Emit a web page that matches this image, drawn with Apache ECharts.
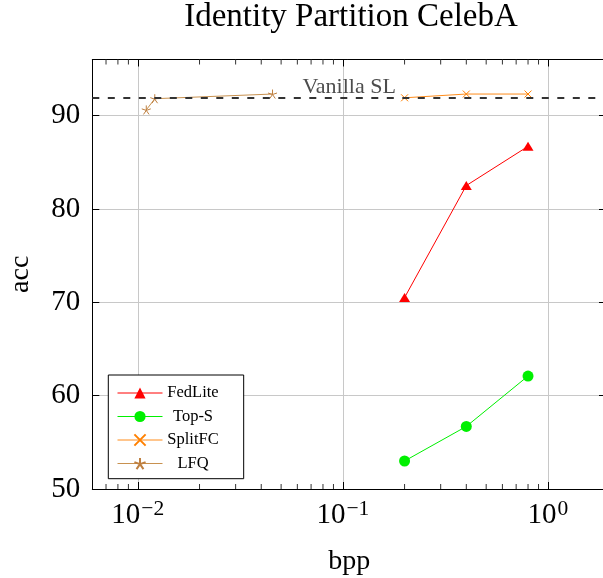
<!DOCTYPE html>
<html>
<head>
<meta charset="utf-8">
<script src="https://cdn.jsdelivr.net/npm/echarts@6/dist/echarts.min.js"></script>
<style>
  html, body { margin: 0; padding: 0; background: #fff; }
  #chart { width: 603px; height: 578px; }
</style>
</head>
<body>
<div id="chart"></div>
<script>
// Accuracy vs. bits per pixel, identity partition of CelebA
const fedLiteBpp = [0.2, 0.4, 0.8];
const fedLiteAcc = [70.5, 82.5, 86.7];

const topSBpp = [0.2, 0.4, 0.8];
const topSAcc = [53.0, 56.7, 62.1];

const splitFCBpp = [0.2, 0.4, 0.8];
const splitFCAcc = [91.9, 92.3, 92.3];

const lfqBpp = [0.011, 0.0121, 0.0454];
const lfqAcc = [90.6, 91.8, 92.3];

const vanillaSL = 91.9;

const seriesNames = ['FedLite', 'Top-S', 'SplitFC', 'LFQ'];
const xMin = 0.006, xMax = 1.92;
const yMin = 50, yMax = 96, yStep = 10;

const FONT = 'Liberation Serif';

const pairs = (xs, ys) => xs.map((x, i) => [x, ys[i]]);

// minor log ticks: 2..9 x 10^k inside the axis range
const minorTicks = [];
for (let k = -3; k <= 0; k++) {
  for (let m = 2; m <= 9; m++) {
    const v = m * Math.pow(10, k);
    if (v > xMin && v < xMax) minorTicks.push([v]);
  }
}

const starPath = 'path://M5,5L5,0M5,5L0.245,3.455M5,5L2.061,9.045M5,5L7.939,9.045M5,5L9.755,3.455';
const crossPath = 'path://M0,0L10,10M10,0L0,10';

function logLabel(v) {
  const e = Math.round(Math.log10(v));
  const exp = e < 0 ? '\u2212' + (-e) : String(e);
  return '{b|10}{s|' + exp + '}';
}

const chart = echarts.init(document.getElementById('chart'), null, { renderer: 'canvas' });

const axisBlack = { show: true, lineStyle: { color: '#000', width: 1 } };

chart.setOption({
  animation: false,
  backgroundColor: '#fff',
  title: {
    text: 'Identity Partition CelebA',
    left: 351,
    top: 1,
    padding: 0,
    textAlign: 'center',
    textStyle: { fontFamily: FONT, fontSize: 33, fontWeight: 'normal', color: '#000' }
  },
  grid: { left: 92.3, right: -3, top: 59.5, bottom: 89, containLabel: false, outerBoundsMode: 'none' },
  legend: {
    data: seriesNames,
    orient: 'vertical',
    left: 108.3,
    top: 375,
    padding: [9.5, 25, 6.7, 8.7],
    itemWidth: 45,
    itemHeight: 14,
    itemGap: 6.5,
    borderColor: '#000',
    borderWidth: 1,
    borderRadius: 0,
    backgroundColor: '#fff',
    selectedMode: false,
    lineStyle: { width: 1 },
    formatter: name => '{a|' + name + '}',
    textStyle: {
      fontFamily: FONT,
      color: '#000',
      rich: { a: { fontFamily: FONT, fontSize: 16.5, width: 51, align: 'center', lineHeight: 14 } }
    }
  },
  xAxis: [
    {
      type: 'log', logBase: 10, min: xMin, max: xMax,
      position: 'bottom',
      axisLine: axisBlack,
      axisTick: { show: true, inside: true, length: 7, lineStyle: { color: '#000' } },
      splitLine: { show: true, lineStyle: { color: '#c8c8c8', width: 1 } },
      minorTick: { show: false },
      axisLabel: {
        show: true, showMinLabel: false, showMaxLabel: false, margin: 9,
        formatter: logLabel,
        rich: {
          b: { fontFamily: FONT, fontSize: 29, lineHeight: 34, color: '#000' },
          s: { fontFamily: FONT, fontSize: 21.5, lineHeight: 16, verticalAlign: 'top', padding: [0, 0, 0, 1], color: '#000' }
        }
      },
      name: 'bpp', nameLocation: 'middle', nameGap: 59,
      nameTextStyle: { fontFamily: FONT, fontSize: 28, color: '#000' }
    },
    {
      type: 'log', logBase: 10, min: xMin, max: xMax,
      position: 'top',
      axisLine: axisBlack,
      axisTick: { show: true, inside: true, length: 7, lineStyle: { color: '#000' } },
      splitLine: { show: false },
      axisLabel: { show: false }
    }
  ],
  yAxis: [
    {
      type: 'value', min: yMin, max: yMax, interval: yStep,
      position: 'left',
      axisLine: axisBlack,
      axisTick: { show: true, inside: true, length: 7, lineStyle: { color: '#000' } },
      splitLine: { show: true, lineStyle: { color: '#c8c8c8', width: 1 } },
      axisLabel: {
        show: true, showMaxLabel: false, margin: 12,
        fontFamily: FONT, fontSize: 29, color: '#000'
      },
      name: 'acc', nameLocation: 'middle', nameGap: 58, nameRotate: 90,
      nameTextStyle: { fontFamily: FONT, fontSize: 28, color: '#000' }
    },
    {
      type: 'value', min: yMin, max: yMax, interval: yStep,
      position: 'right',
      axisLine: axisBlack,
      axisTick: { show: true, inside: true, length: 7, lineStyle: { color: '#000' } },
      splitLine: { show: false },
      axisLabel: { show: false }
    }
  ],
  series: [
    {
      name: 'minor ticks',
      type: 'custom',
      silent: true,
      xAxisIndex: 0, yAxisIndex: 0,
      data: minorTicks,
      z: 5,
      renderItem(params, api) {
        const x = api.coord([api.value(0), yMin])[0];
        const cs = params.coordSys;
        const top = cs.y, bot = cs.y + cs.height;
        return {
          type: 'group',
          children: [
            { type: 'line', shape: { x1: x, y1: bot, x2: x, y2: bot - 5 }, style: { stroke: '#333', lineWidth: 1 } },
            { type: 'line', shape: { x1: x, y1: top, x2: x, y2: top + 5 }, style: { stroke: '#333', lineWidth: 1 } }
          ]
        };
      }
    },
    {
      name: 'Vanilla SL',
      type: 'line',
      data: [],
      silent: true,
      markLine: {
        silent: true,
        symbol: ['none', 'none'],
        lineStyle: { color: '#333', width: 2, type: [7, 8.5] },
        label: {
          show: true, position: 'middle', distance: 0,
          formatter: 'Vanilla SL',
          fontFamily: FONT, fontSize: 22, color: '#4d4d4d'
        },
        data: [{ yAxis: vanillaSL }]
      }
    },
    {
      name: 'FedLite', type: 'line', data: pairs(fedLiteBpp, fedLiteAcc),
      symbol: 'triangle', symbolSize: [11, 9],
      itemStyle: { color: '#ff0000' },
      lineStyle: { color: '#ff0000', width: 1 },
      z: 3
    },
    {
      name: 'Top-S', type: 'line', data: pairs(topSBpp, topSAcc),
      symbol: 'circle', symbolSize: 11,
      itemStyle: { color: '#00f000' },
      lineStyle: { color: '#00f000', width: 1 },
      z: 3
    },
    {
      name: 'SplitFC', type: 'line', data: pairs(splitFCBpp, splitFCAcc),
      symbol: crossPath, symbolSize: 7,
      itemStyle: { color: '#ff8000', borderColor: '#ff8000', borderWidth: 1 },
      lineStyle: { color: '#ff8c1a', width: 1 },
      z: 3
    },
    {
      name: 'LFQ', type: 'line', data: pairs(lfqBpp, lfqAcc),
      symbol: starPath, symbolSize: 9,
      itemStyle: { color: '#bf8040', borderColor: '#bf8040', borderWidth: 1 },
      lineStyle: { color: '#c8914f', width: 1 },
      z: 3
    }
  ]
});
</script>
</body>
</html>
